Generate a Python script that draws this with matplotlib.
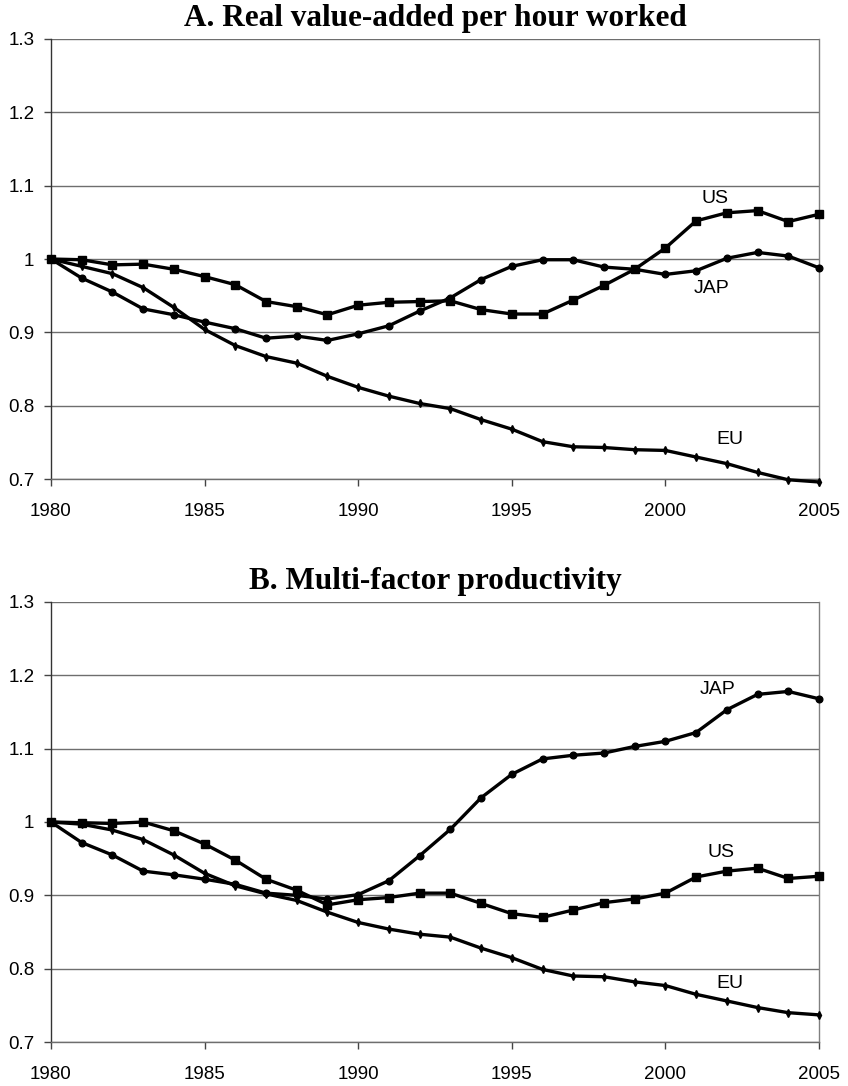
import matplotlib
matplotlib.use("Agg")
from matplotlib import pyplot as plt

# years on the x axis
years = list(range(1980, 2006))

# Panel A: real value-added per hour worked (index, 1980 = 1)
us_a = [1.000, 0.999, 0.992, 0.993, 0.986, 0.976, 0.965, 0.942, 0.935, 0.924,
        0.937, 0.941, 0.942, 0.943, 0.931, 0.925, 0.925, 0.944, 0.964, 0.986,
        1.015, 1.052, 1.063, 1.066, 1.051, 1.061]
jap_a = [1.000, 0.974, 0.955, 0.932, 0.924, 0.914, 0.905, 0.892, 0.895, 0.889,
         0.898, 0.909, 0.929, 0.947, 0.972, 0.990, 0.999, 0.999, 0.989, 0.986,
         0.979, 0.984, 1.001, 1.009, 1.004, 0.988]
eu_a = [1.000, 0.990, 0.980, 0.961, 0.934, 0.904, 0.882, 0.867, 0.858, 0.840,
        0.825, 0.813, 0.803, 0.796, 0.781, 0.768, 0.751, 0.744, 0.743, 0.740,
        0.739, 0.730, 0.721, 0.709, 0.699, 0.696]

# Panel B: multi-factor productivity
us_b = [1.000, 0.999, 0.998, 1.000, 0.988, 0.970, 0.948, 0.922, 0.907, 0.887,
        0.894, 0.897, 0.903, 0.903, 0.889, 0.875, 0.870, 0.880, 0.890, 0.895,
        0.903, 0.925, 0.933, 0.937, 0.923, 0.926]
jap_b = [1.000, 0.972, 0.955, 0.933, 0.928, 0.922, 0.915, 0.903, 0.900, 0.895,
         0.901, 0.920, 0.954, 0.990, 1.033, 1.065, 1.086, 1.091, 1.094, 1.103,
         1.110, 1.122, 1.153, 1.174, 1.178, 1.168]
eu_b = [1.000, 0.997, 0.989, 0.976, 0.955, 0.930, 0.913, 0.902, 0.893, 0.877,
        0.863, 0.854, 0.847, 0.843, 0.828, 0.815, 0.799, 0.790, 0.789, 0.782,
        0.777, 0.765, 0.756, 0.747, 0.740, 0.737]

titles = ["A. Real value-added per hour worked", "B. Multi-factor productivity"]
x_ticks = [1980, 1985, 1990, 1995, 2000, 2005]
y_ticks = [0.7, 0.8, 0.9, 1.0, 1.1, 1.2, 1.3]
y_labels = ["0.7", "0.8", "0.9", "1", "1.1", "1.2", "1.3"]

# label positions (year, value) for each panel
labels_a = {"US": (2001.6, 1.083), "JAP": (2001.5, 0.960), "EU": (2002.1, 0.754)}
labels_b = {"JAP": (2001.7, 1.181), "US": (2001.8, 0.959), "EU": (2002.1, 0.780)}

SANS = "Liberation Sans"
SERIF = "Liberation Serif"


def draw_panel(ax, us, jap, eu, title, labels):
    """Draw one index panel with the three series."""
    for yv in y_ticks:
        ax.axhline(yv, color="#6e6e6e", lw=1.0, zorder=1)

    ax.plot(years, us, color="black", lw=2.4, marker="s", ms=5.4, zorder=3, clip_on=False)
    ax.plot(years, jap, color="black", lw=2.4, marker="o", ms=4.8, zorder=3, clip_on=False)
    ax.plot(years, eu, color="black", lw=2.4, marker="d", ms=4.2, zorder=3, clip_on=False)

    ax.set_xlim(1980, 2005)
    ax.set_ylim(0.7, 1.3)
    ax.set_xticks(x_ticks)
    ax.set_xticklabels([str(t) for t in x_ticks], fontsize=13.5, family=SANS)
    ax.set_yticks(y_ticks)
    ax.set_yticklabels(y_labels, fontsize=13.5, family=SANS)
    ax.tick_params(axis="x", direction="out", length=5, width=1, color="#444444", pad=12)
    ax.tick_params(axis="y", direction="out", length=5, width=1, color="#444444", pad=7)

    ax.spines["top"].set_visible(False)
    ax.spines["right"].set_color("#808080")
    ax.spines["bottom"].set_color("#6e6e6e")
    ax.spines["left"].set_color("#333333")
    for s in ax.spines.values():
        s.set_linewidth(1.0)

    for name, (xx, yy) in labels.items():
        ax.text(xx, yy, name, fontsize=14, family=SANS, ha="center", va="center")

    ax.set_title(title, fontsize=22.5, fontweight="bold", family=SERIF, pad=9)


def main():
    fig = plt.figure(figsize=(8.48, 10.86), dpi=100)
    ax_a = fig.add_axes([0.0601, 0.5589, 0.9057, 0.4052])
    ax_b = fig.add_axes([0.0601, 0.0405, 0.9057, 0.4052])

    draw_panel(ax_a, us_a, jap_a, eu_a, titles[0], labels_a)
    draw_panel(ax_b, us_b, jap_b, eu_b, titles[1], labels_b)

    fig.savefig("out.png", dpi=100)


if __name__ == "__main__":
    main()
